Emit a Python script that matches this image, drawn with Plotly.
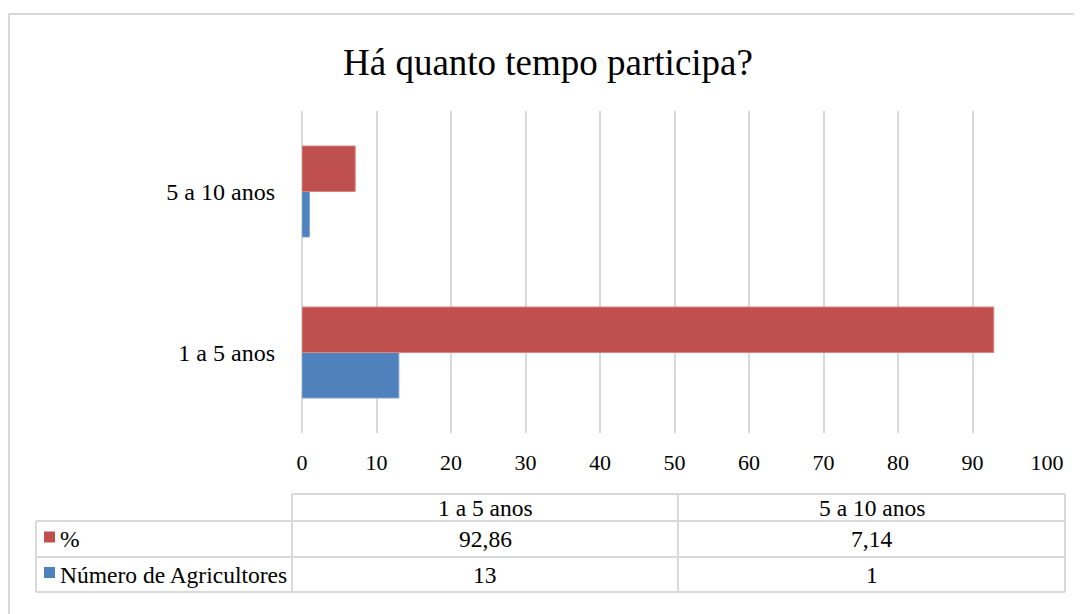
import plotly.graph_objects as go

# ---- data ----
title_text = "Há quanto tempo participa?"
categories = ["1 a 5 anos", "5 a 10 anos"]
series_pct_name = "%"
series_pct = [92.86, 7.14]
series_num_name = "Número de Agricultores"
series_num = [13, 1]
x_ticks = [0, 10, 20, 30, 40, 50, 60, 70, 80, 90, 100]

# ---- style ----
OFF = 8  # page body margin offset
W, H = 1082 - OFF, 614 - OFF
PL, PR, PT, PB = 302, 1047, 111, 433  # plot area in screen pixels
FONT = "Liberation Serif, Times New Roman, serif"
RED = "#C0504D"
BLUE = "#4F81BD"
GRID = "#d9d9d9"


def px(x):
    return (x - PL) / (PR - PL)


def py(y):
    return (PB - y) / (PB - PT)


def fmt(v):
    s = f"{v:.2f}".rstrip("0").rstrip(".")
    return s.replace(".", ",")


fig = go.Figure()
fig.add_trace(go.Bar(
    y=categories, x=series_num, name=series_num_name, orientation="h",
    marker=dict(color=BLUE, line=dict(color="#7da1d1", width=1)),
))
fig.add_trace(go.Bar(
    y=categories, x=series_pct, name=series_pct_name, orientation="h",
    marker=dict(color=RED, line=dict(color="#d98583", width=1)),
))

fig.update_layout(
    width=W, height=H,
    margin=dict(l=PL - OFF, r=(W + OFF) - PR, t=PT - OFF, b=(H + OFF) - PB, pad=0),
    paper_bgcolor="white", plot_bgcolor="white",
    barmode="group", bargap=0.435, bargroupgap=0,
    showlegend=False,
    font=dict(family=FONT, size=22, color="black"),
    xaxis=dict(
        range=[0, 100], tickvals=x_ticks, showgrid=True, gridcolor=GRID, gridwidth=2,
        zeroline=True, zerolinecolor=GRID, zerolinewidth=2, showline=False,
        ticks="", ticklabelstandoff=14, tickfont=dict(family=FONT, size=22, color="black"),
        fixedrange=True,
    ),
    yaxis=dict(
        showgrid=False, zeroline=False, showline=False, ticks="",
        ticklabelstandoff=26, tickfont=dict(family=FONT, size=24, color="black"),
        fixedrange=True,
    ),
)

shapes = []
annotations = []

# outer chart border
shapes.append(dict(type="rect", xref="paper", yref="paper",
                   x0=px(9), x1=px(1100), y0=py(14), y1=py(640),
                   line=dict(color=GRID, width=2), fillcolor="rgba(0,0,0,0)", layer="below"))

# title
annotations.append(dict(text=title_text, xref="paper", yref="paper",
                        x=px(548), y=py(62), xanchor="center", yanchor="middle",
                        showarrow=False, font=dict(family=FONT, size=37, color="black")))

# data table geometry (screen pixels)
t_left, t_lab, t_mid, t_right = 36, 292, 678, 1065
r_top, r1, r2, r_bot = 494, 521, 557, 592


def hline(x0, x1, y):
    shapes.append(dict(type="line", xref="paper", yref="paper",
                       x0=px(x0), x1=px(x1), y0=py(y), y1=py(y),
                       line=dict(color=GRID, width=2)))


def vline(x, y0, y1):
    shapes.append(dict(type="line", xref="paper", yref="paper",
                       x0=px(x), x1=px(x), y0=py(y0), y1=py(y1),
                       line=dict(color=GRID, width=2)))


hline(t_lab, t_right, r_top)
for yy in (r1, r2, r_bot):
    hline(t_left, t_right, yy)
vline(t_left, r1, r_bot)
for xx in (t_lab, t_mid, t_right):
    vline(xx, r_top, r_bot)

col_centers = [(t_lab + t_mid) / 2, (t_mid + t_right) / 2]


def cell(text, x, y, xanchor="center"):
    annotations.append(dict(text=text, xref="paper", yref="paper", x=px(x), y=py(y),
                            xanchor=xanchor, yanchor="middle", showarrow=False,
                            font=dict(family=FONT, size=23.5, color="black")))


# header row
for c, cx in zip(categories, col_centers):
    cell(c, cx, (r_top + r1) / 2)

rows = [(series_pct_name, series_pct, RED, (r1 + r2) / 2),
        (series_num_name, series_num, BLUE, (r2 + r_bot) / 2)]
for name, vals, color, cy in rows:
    shapes.append(dict(type="rect", xref="paper", yref="paper",
                       x0=px(44), x1=px(55), y0=py(cy - 7.5), y1=py(cy + 3.5),
                       line=dict(width=0), fillcolor=color))
    cell(name, 58, cy, xanchor="left")
    for v, cx in zip(vals, col_centers):
        cell(fmt(v), cx, cy)

fig.update_layout(shapes=shapes, annotations=annotations)
fig.write_html("out.html")
